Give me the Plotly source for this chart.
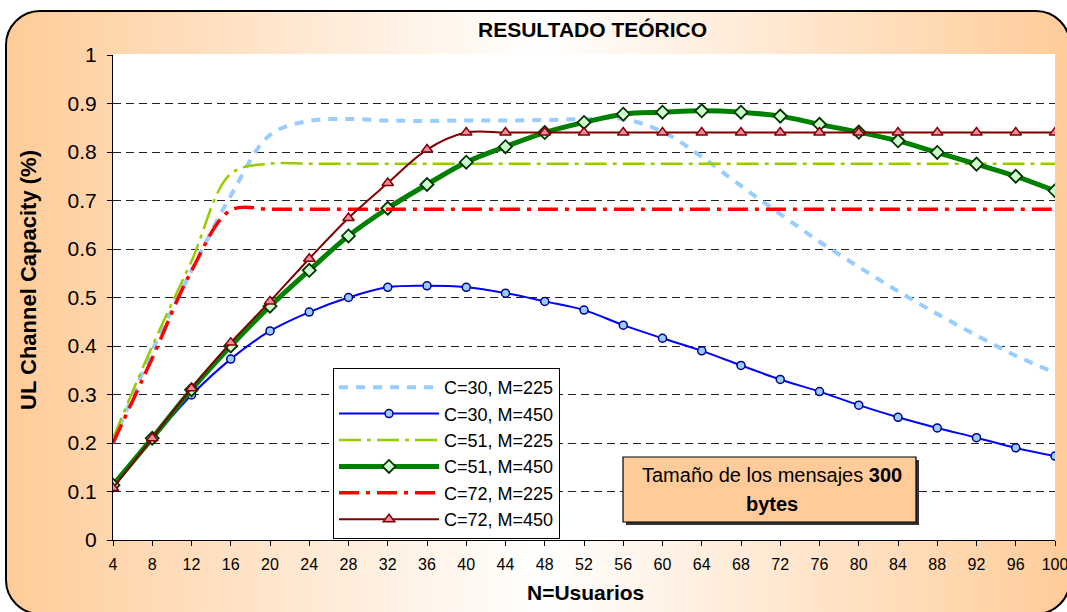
import base64
import plotly.graph_objects as go

# ---------------- data ----------------
users = [4, 8, 12, 16, 20, 24, 28, 32, 36, 40, 44, 48, 52, 56, 60, 64, 68, 72, 76, 80, 84, 88, 92, 96, 100]

c30_m225 = [0.200, 0.390, 0.555, 0.710, 0.835, 0.864, 0.868, 0.865, 0.864, 0.865, 0.865, 0.866, 0.868,
            0.868, 0.842, 0.790, 0.730, 0.672, 0.615, 0.563, 0.513, 0.466, 0.422, 0.380, 0.345]
c30_m450 = [0.110, 0.208, 0.299, 0.373, 0.431, 0.470, 0.500, 0.521, 0.524, 0.521, 0.509, 0.492, 0.474,
            0.443, 0.416, 0.390, 0.360, 0.331, 0.306, 0.278, 0.253, 0.231, 0.211, 0.190, 0.173]
c51_m225 = [0.210, 0.400, 0.575, 0.755, 0.776, 0.776, 0.776, 0.776, 0.776, 0.776, 0.776, 0.776, 0.776,
            0.776, 0.776, 0.776, 0.776, 0.776, 0.776, 0.776, 0.776, 0.776, 0.776, 0.776, 0.776]
c51_m450 = [0.113, 0.210, 0.310, 0.400, 0.482, 0.556, 0.627, 0.684, 0.733, 0.779, 0.811, 0.840, 0.861,
            0.878, 0.882, 0.885, 0.882, 0.874, 0.857, 0.841, 0.823, 0.799, 0.775, 0.750, 0.720]
c72_m225 = [0.200, 0.375, 0.555, 0.680, 0.682, 0.682, 0.682, 0.682, 0.682, 0.682, 0.682, 0.682, 0.682,
            0.682, 0.682, 0.682, 0.682, 0.682, 0.682, 0.682, 0.682, 0.682, 0.682, 0.682, 0.682]
c72_m450 = [0.107, 0.210, 0.313, 0.407, 0.492, 0.580, 0.664, 0.736, 0.805, 0.840, 0.840, 0.840, 0.840,
            0.840, 0.840, 0.840, 0.840, 0.840, 0.840, 0.840, 0.840, 0.840, 0.840, 0.840, 0.840]

series_names = ["C=30, M=225", "C=30, M=450", "C=51, M=225", "C=51, M=450", "C=72, M=225", "C=72, M=450"]
y_ticks = [0, 0.1, 0.2, 0.3, 0.4, 0.5, 0.6, 0.7, 0.8, 0.9, 1]

title_text = "RESULTADO TEÓRICO"
x_title = "N=Usuarios"
y_title = "UL Channel Capacity (%)"
note_line1 = "Tamaño de los mensajes <b>300</b>"
note_line2 = "<b>bytes</b>"

# ---------------- geometry ----------------
W, H = 1067, 612
L, R, T, B = 113, 1055, 55, 540
PW, PH = R - L, B - T


def px(x):
    return (x - L) / PW


def py(y):
    return (B - y) / PH


FONT = "Liberation Sans, Arial, sans-serif"
NARROW = "Liberation Sans Narrow, Arial Narrow, Liberation Sans, Arial, sans-serif"

# background: rounded frame with horizontal orange-white-orange gradient
svg = f'''<svg xmlns="http://www.w3.org/2000/svg" width="{W}" height="{H}" viewBox="0 0 {W} {H}" preserveAspectRatio="none">
<defs><linearGradient id="g" x1="0" y1="0" x2="1" y2="0">
<stop offset="0" stop-color="#FFCC99"/><stop offset="0.5" stop-color="#FFFFFF"/><stop offset="1" stop-color="#FFCC99"/>
</linearGradient></defs>
<rect x="0" y="0" width="{W}" height="{H}" fill="#FFFFFF"/>
<rect x="6" y="11" width="1064" height="603" rx="34" ry="34" fill="url(#g)" stroke="#000000" stroke-width="2"/>
<rect x="{L}" y="{T - 1}" width="{PW}" height="{PH + 1}" fill="#FFFFFF"/>
</svg>'''
bg_src = "data:image/svg+xml;base64," + base64.b64encode(svg.encode("utf-8")).decode("ascii")

fig = go.Figure()

fig.add_trace(go.Scatter(
    x=users, y=c30_m225, name=series_names[0], mode="lines",
    line=dict(color="#99CCFF", width=4, dash="9px,8px", shape="spline")))
fig.add_trace(go.Scatter(
    x=users, y=c30_m450, name=series_names[1], mode="lines+markers",
    line=dict(color="#0000FF", width=2, shape="spline"),
    marker=dict(symbol="circle", size=8, color="#99CCFF", line=dict(color="#000080", width=1.5))))
fig.add_trace(go.Scatter(
    x=users, y=c51_m225, name=series_names[2], mode="lines",
    line=dict(color="#99CC00", width=2.5, dash="22px,6px,4px,6px", shape="spline")))
fig.add_trace(go.Scatter(
    x=users, y=c51_m450, name=series_names[3], mode="lines+markers",
    line=dict(color="#008000", width=5, shape="spline"),
    marker=dict(symbol="diamond", size=10, color="#CCFFCC", line=dict(color="#003300", width=1.8))))
fig.add_trace(go.Scatter(
    x=users, y=c72_m225, name=series_names[4], mode="lines",
    line=dict(color="#FF0000", width=3.5, dash="20px,7px,4px,7px", shape="spline")))
fig.add_trace(go.Scatter(
    x=users, y=c72_m450, name=series_names[5], mode="lines+markers",
    line=dict(color="#800000", width=2, shape="spline"),
    marker=dict(symbol="triangle-up", size=10, color="#F08AA3", line=dict(color="#800000", width=1.5))))

fig.update_layout(
    width=W, height=H, autosize=False,
    margin=dict(l=L, r=W - R, t=T, b=H - B, pad=0, autoexpand=False),
    paper_bgcolor="#FFFFFF", plot_bgcolor="#FFFFFF",
    font=dict(family=FONT, color="#000000"),
    showlegend=True,
    legend=dict(
        x=px(333), y=py(368), xanchor="left", yanchor="top",
        bgcolor="#FFFFFF", bordercolor="#000000", borderwidth=1,
        font=dict(family=FONT, size=18, color="#000000"),
        tracegroupgap=0, itemwidth=100,
    ),
    images=[dict(source=bg_src, xref="paper", yref="paper",
                 x=px(0), y=py(0), sizex=W / PW, sizey=H / PH,
                 xanchor="left", yanchor="top", sizing="stretch", layer="below")],
    xaxis=dict(
        range=[4, 100], tickmode="array", tickvals=users, ticktext=[str(u) for u in users],
        ticks="outside", ticklen=5, tickcolor="#000000", tickwidth=1,
        showline=True, linecolor="#000000", linewidth=1.2,
        showgrid=False, zeroline=False, automargin=False,
        tickfont=dict(family=NARROW, size=16, color="#000000"),
        ticklabelstandoff=5, ticklabeloverflow="allow",
    ),
    yaxis=dict(
        range=[0, 1], tickmode="array", tickvals=y_ticks, ticktext=[f"{v:g}" for v in y_ticks],
        ticks="outside", ticklen=5, tickcolor="#000000", tickwidth=1,
        showline=True, linecolor="#000000", linewidth=1.2,
        showgrid=True, gridcolor="#222222", gridwidth=1, griddash="8px,5px",
        zeroline=False, automargin=False,
        tickfont=dict(family=FONT, size=21, color="#000000"),
        ticklabelstandoff=6,
    ),
)

# note box (shadow + box) and text
fig.add_shape(type="rect", xref="paper", yref="paper",
              x0=px(626), x1=px(919), y0=py(525), y1=py(460),
              fillcolor="#333333", line=dict(width=0), layer="above")
fig.add_shape(type="rect", xref="paper", yref="paper",
              x0=px(623), x1=px(916), y0=py(522), y1=py(457),
              fillcolor="#FFCC99", line=dict(color="#000000", width=1.2), layer="above")

annots = [
    dict(text=f"<b>{title_text}</b>", x=px(592), y=py(30), font=dict(size=21)),
    dict(text=f"<b>{x_title}</b>", x=px(585), y=py(592), font=dict(size=21)),
    dict(text=f"<b>{y_title}</b>", x=px(28), y=py(280), font=dict(size=22), textangle=-90),
    dict(text=note_line1, x=px(772), y=py(475), font=dict(size=20)),
    dict(text=note_line2, x=px(772), y=py(504), font=dict(size=20)),
]
for a in annots:
    fig.add_annotation(xref="paper", yref="paper", xanchor="center", yanchor="middle",
                       showarrow=False, font_family=FONT, font_color="#000000", **a)

fig.write_html("out.html", config={"displayModeBar": False},
               post_script="document.body.style.margin='0px';")
